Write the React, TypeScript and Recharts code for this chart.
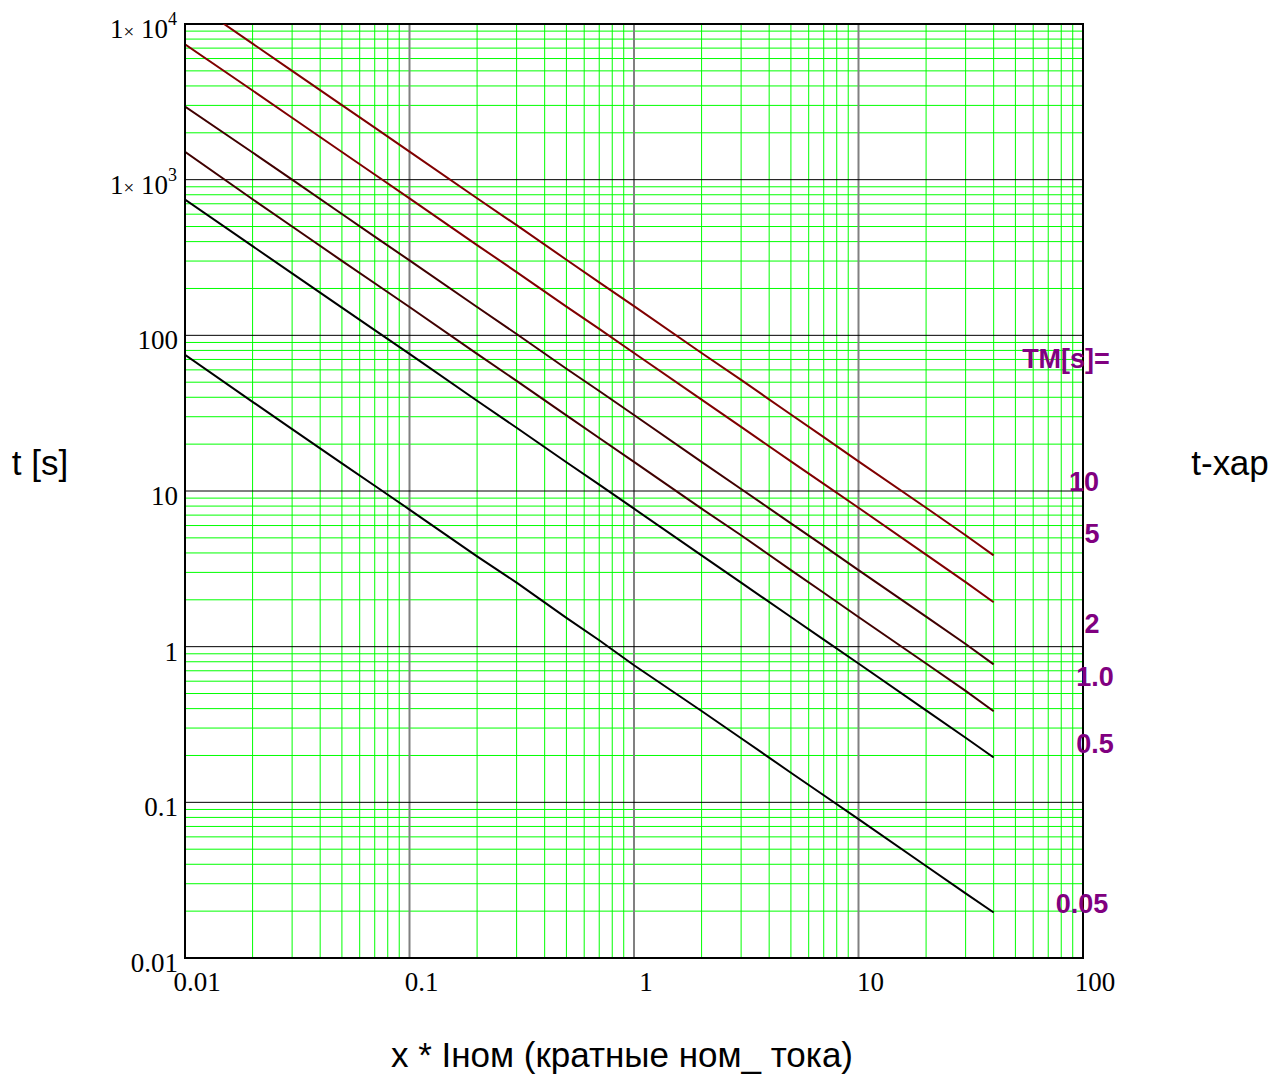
import React from 'react'
import {
  LineChart,
  Line,
  XAxis,
  YAxis,
  CartesianGrid,
  ReferenceArea,
} from 'recharts'

// current multiples (x) at which the curves were read
const xValues = [0.01, 0.02, 0.03, 0.05, 0.07, 0.1, 0.2, 0.3, 0.5, 0.7, 1, 2, 3, 5, 7, 10, 20, 30, 40]

// t [s] for each TM setting
const tm10 = [14900, 7480, 5000, 3010, 2160, 1515, 760, 510, 306, 219, 154, 77, 51.7, 31, 22.2, 15.5, 7.8, 5.2, 3.86]
const tm5 = [7400, 3740, 2500, 1505, 1080, 758, 380, 255, 153, 110, 77, 38.6, 25.8, 15.5, 11.1, 7.8, 3.9, 2.6, 1.93]
const tm2 = [2950, 1495, 1000, 602, 431, 303, 152, 102, 61, 43.9, 30.8, 15.4, 10.3, 6.2, 4.44, 3.1, 1.56, 1.04, 0.77]
const tm1 = [1510, 748, 500, 301, 216, 152, 76, 51, 30.6, 21.9, 15.4, 7.7, 5.2, 3.1, 2.22, 1.55, 0.78, 0.52, 0.385]
const tm05 = [745, 374, 250, 150.5, 108, 76, 38, 25.5, 15.3, 11.0, 7.7, 3.86, 2.58, 1.55, 1.11, 0.78, 0.39, 0.26, 0.194]
const tm005 = [75, 37.4, 25, 15.05, 10.8, 7.6, 3.8, 2.58, 1.53, 1.1, 0.76, 0.386, 0.258, 0.155, 0.111, 0.078, 0.039, 0.026, 0.0196]

const xTicks = [0.01, 0.1, 1, 10, 100]
const yTicks = [0.01, 0.1, 1, 10, 100, 1000, 10000]
const tmLabels = ['10', '5', '2', '1.0', '0.5', '0.05']

const series = [
  { key: 'tm10', values: tm10, color: '#800000' },
  { key: 'tm5', values: tm5, color: '#800000' },
  { key: 'tm2', values: tm2, color: '#400000' },
  { key: 'tm1', values: tm1, color: '#400000' },
  { key: 'tm05', values: tm05, color: '#000000' },
  { key: 'tm005', values: tm005, color: '#000000' },
]

const data = xValues.map((x, i) => {
  const row: Record<string, number> = { x }
  series.forEach(s => {
    row[s.key] = s.values[i]
  })
  return row
})

// log grid: 2..9 inside every decade
const mults = [2, 3, 4, 5, 6, 7, 8, 9]
const xMinor = xTicks.slice(0, -1).flatMap(d => mults.map(m => +(d * m).toPrecision(3)))
const yMinor = yTicks.slice(0, -1).flatMap(d => mults.map(m => +(d * m).toPrecision(3)))
const xMajor = xTicks.slice(1, -1)
const yMajor = yTicks.slice(1, -1)

const serif = "'Times New Roman', 'Liberation Serif', serif"
const sans = "Arial, 'Liberation Sans', sans-serif"

function YTick({ y, payload }: any) {
  const v = payload.value
  const base = y + 14
  if (v >= 1000) {
    return (
      <text x={177} y={base} textAnchor="end" fontFamily={serif} fontSize={27} fill="#000">
        1<tspan fontSize={19}>×</tspan> 10
        <tspan fontSize={18} dy={-13}>{v === 1000 ? '3' : '4'}</tspan>
      </text>
    )
  }
  return (
    <text x={178} y={base} textAnchor="end" fontFamily={serif} fontSize={27} fill="#000">
      {String(v)}
    </text>
  )
}

function XTick({ x, payload }: any) {
  return (
    <text x={x + 12} y={991} textAnchor="middle" fontFamily={serif} fontSize={27} fill="#000">
      {String(payload.value)}
    </text>
  )
}

const labelPos = [
  { x: 1084, y: 491 },
  { x: 1092, y: 543 },
  { x: 1092, y: 633 },
  { x: 1095, y: 686 },
  { x: 1095, y: 753 },
  { x: 1082, y: 913 },
]

export default function App() {
  return (
    <div style={{ position: 'absolute', left: 0, top: 0, width: 1283, height: 1080, background: '#fff' }}>
      <LineChart
        width={1283}
        height={1080}
        data={data}
        margin={{ top: 24, right: 200, bottom: 0, left: 0 }}
      >
        <CartesianGrid
          stroke="#00ff00"
          strokeWidth={1}
          verticalValues={xMinor}
          horizontalValues={yMinor}
        />
        <CartesianGrid stroke="#808080" strokeWidth={2} horizontal={false} verticalValues={xMajor} />
        <CartesianGrid stroke="#000000" strokeWidth={1} vertical={false} horizontalValues={yMajor} />
        <XAxis
          dataKey="x"
          type="number"
          scale="log"
          domain={[0.01, 100]}
          ticks={xTicks}
          allowDataOverflow
          height={122}
          axisLine={{ stroke: '#000', strokeWidth: 2 }}
          tickLine={false}
          tick={<XTick />}
          interval={0}
        />
        <YAxis
          type="number"
          scale="log"
          domain={[0.01, 10000]}
          ticks={yTicks}
          allowDataOverflow
          width={185}
          axisLine={{ stroke: '#000', strokeWidth: 2 }}
          tickLine={false}
          tick={<YTick />}
          interval={0}
        />
        <ReferenceArea
          x1={0.01}
          x2={100}
          y1={0.01}
          y2={10000}
          fill="none"
          fillOpacity={0}
          stroke="#000"
          strokeWidth={2}
        />
        {series.map(s => (
          <Line
            key={s.key}
            dataKey={s.key}
            type="linear"
            stroke={s.color}
            strokeWidth={2}
            dot={false}
            isAnimationActive={false}
          />
        ))}
      </LineChart>
      <svg
        width={1283}
        height={1080}
        style={{ position: 'absolute', left: 0, top: 0, pointerEvents: 'none' }}
      >
        <text x={40} y={475} textAnchor="middle" fontFamily={sans} fontSize={35} fill="#000">
          t [s]
        </text>
        <text x={1230} y={475} textAnchor="middle" fontFamily={sans} fontSize={35} fill="#000">
          t-хар
        </text>
        <text x={622} y={1067} textAnchor="middle" fontFamily={sans} fontSize={35} fill="#000">
          x * Iном (кратные ном_ тока)
        </text>
        <text x={1066} y={368} textAnchor="middle" fontFamily={sans} fontWeight="bold" fontSize={27} fill="#800080">
          TM[s]=
        </text>
        {tmLabels.map((t, i) => (
          <text
            key={t}
            x={labelPos[i].x}
            y={labelPos[i].y}
            textAnchor="middle"
            fontFamily={sans}
            fontWeight="bold"
            fontSize={27}
            fill="#800080"
          >
            {t}
          </text>
        ))}
      </svg>
    </div>
  )
}
